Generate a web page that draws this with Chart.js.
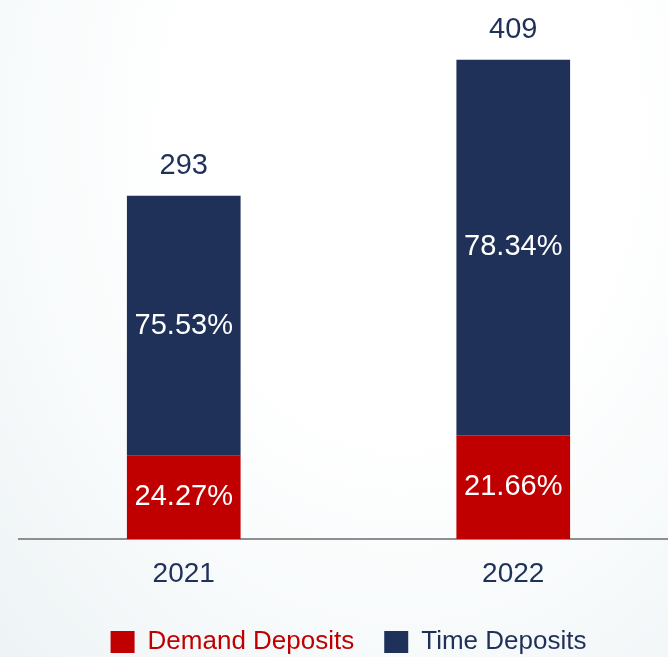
<!DOCTYPE html>
<html>
<head>
<meta charset="utf-8">
<script src="https://cdn.jsdelivr.net/npm/chart.js@4.4.1/dist/chart.umd.min.js"></script>
<style>
    html, body {
        margin: 0;
        padding: 0;
        overflow: hidden;
    }
    body {
        width: 668px;
        height: 657px;
        background: radial-gradient(ellipse at 60% 20%, #ffffff 40%, #f7fafb 70%, #edf3f5 100%);
    }
    .chart__box {
        position: relative;
        width: 678px;
        height: 657px;
    }
</style>
</head>
<body>
<div class="chart__box">
    <canvas id="myChart"></canvas>
</div>
<script>
// data
const years = ['2021', '2022'];
const totals = [293, 409];
const demandPct = [24.27, 21.66];
const timePct = [75.53, 78.34];

const red = '#c00000';
const navy = '#1f3159';
const fontFam = '"Liberation Sans", Arial, sans-serif';

// split totals into stacked amounts
const demandVals = totals.map((t, i) => t * demandPct[i] / 100);
const timeVals = totals.map((t, i) => t - demandVals[i]);

//-----------------------------
// labels inside bars + totals on top
const barLabels = {
    id: 'barLabels',
    afterDatasetsDraw(chart) {
        const ctx = chart.ctx;
        ctx.save();
        ctx.textAlign = 'center';
        ctx.textBaseline = 'middle';
        ctx.font = '29px ' + fontFam;
        const pcts = [demandPct, timePct];
        chart.data.datasets.forEach(function (ds, d) {
            chart.getDatasetMeta(d).data.forEach(function (bar, i) {
                ctx.fillStyle = '#ffffff';
                const mid = (bar.y + bar.base) / 2;
                ctx.fillText(pcts[d][i].toFixed(2) + '%', bar.x, mid);
            });
        });
        const top = chart.getDatasetMeta(1).data;
        ctx.fillStyle = navy;
        top.forEach(function (bar, i) {
            ctx.fillText(String(totals[i]), bar.x, bar.y - 30);
        });
        ctx.restore();
    }
};

const data = {
    labels: years,
    datasets: [{
        label: 'Demand Deposits',
        backgroundColor: red,
        data: demandVals,
        barPercentage: 0.69,
        categoryPercentage: 0.5
    }, {
        label: 'Time Deposits',
        backgroundColor: navy,
        data: timeVals,
        barPercentage: 0.69,
        categoryPercentage: 0.5
    }]
};

const config = {
    type: 'bar',
    data: data,
    options: {
        responsive: true,
        maintainAspectRatio: false,
        animation: false,
        layout: {
            padding: { left: 19, top: 0, right: 0, bottom: -8 }
        },
        scales: {
            x: {
                stacked: true,
                grid: { display: false },
                border: { display: true, color: '#8f8f8f', width: 2 },
                ticks: {
                    color: navy,
                    padding: 10,
                    font: { size: 28, family: fontFam }
                },
                afterFit: function (scale) { scale.height = 60; }
            },
            y: {
                stacked: true,
                display: false,
                min: 0,
                max: 460
            }
        },
        plugins: {
            tooltip: { enabled: false },
            legend: {
                position: 'bottom',
                labels: {
                    boxWidth: 24,
                    boxHeight: 22,
                    padding: 30,
                    font: { size: 26, family: fontFam },
                    generateLabels: function (chart) {
                        return chart.data.datasets.map(function (ds, i) {
                            return {
                                text: ds.label,
                                fillStyle: ds.backgroundColor,
                                strokeStyle: ds.backgroundColor,
                                lineWidth: 0,
                                fontColor: ds.backgroundColor,
                                datasetIndex: i
                            };
                        });
                    }
                }
            }
        }
    },
    plugins: [barLabels]
};
const myChart = new Chart(document.getElementById('myChart'), config);
</script>
</body>
</html>
